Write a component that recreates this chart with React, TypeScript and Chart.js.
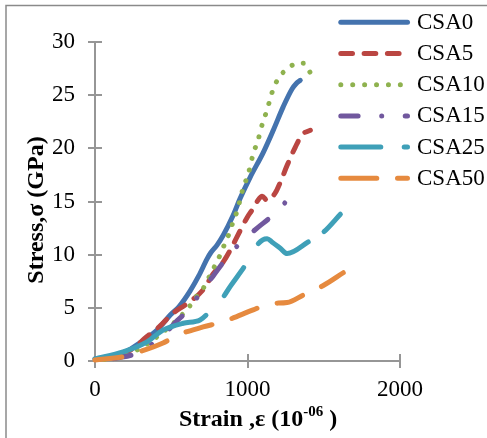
import React, { useEffect, useRef } from "react";
import { Chart, registerables } from "chart.js";

Chart.register(...registerables);

// ---------- data ----------
const seriesNames = ["CSA0", "CSA5", "CSA10", "CSA15", "CSA25", "CSA50"];

const csa0Strain = [0, 100, 184, 230, 295, 407, 492, 550, 624, 680, 735, 760, 800, 840, 906, 952, 1018, 1103, 1169, 1234, 1293, 1320, 1346];
const csa0Stress = [0.2, 0.4, 0.75, 1.1, 1.7, 2.9, 4.3, 5.1, 6.6, 8.0, 9.6, 10.2, 10.9, 11.8, 13.7, 15.3, 17.3, 19.6, 21.7, 23.9, 25.6, 26.1, 26.4];

const csa5Strain = [0, 120, 230, 341, 427, 512, 604, 709, 775, 840, 886, 932, 998, 1030, 1063, 1096, 1129, 1182, 1215, 1260, 1313, 1359, 1412];
const csa5Stress = [0.1, 0.5, 1.0, 2.3, 3.3, 4.5, 5.4, 6.7, 8.2, 9.3, 10.4, 11.7, 13.5, 14.2, 15.0, 15.5, 15.1, 15.8, 16.8, 18.4, 20.1, 21.3, 21.7];

const csa10Strain = [0, 100, 210, 479, 637, 676, 722, 755, 788, 821, 853, 880, 906, 932, 952, 972, 998, 1018, 1037, 1063, 1083, 1103, 1129, 1149, 1175, 1208, 1254, 1307, 1372, 1412];
const csa10Stress = [0.1, 0.2, 0.56, 3.1, 5.45, 6.3, 7.1, 8.1, 9.0, 10.0, 11.1, 12.0, 13.1, 14.1, 15.2, 16.3, 17.3, 18.3, 19.5, 20.5, 21.5, 22.6, 23.6, 24.7, 25.8, 26.7, 27.4, 27.9, 28.0, 27.1];

const csa15Strain = [0, 150, 276, 446, 525, 624, 689, 775, 853, 952, 1063, 1149, 1247];
const csa15Stress = [0.0, 0.3, 0.75, 2.4, 3.6, 5.0, 6.4, 8.0, 9.5, 11.1, 12.5, 13.5, 14.9];

const csa25Strain = [0, 184, 341, 446, 578, 689, 742, 840, 886, 985, 1063, 1100, 1129, 1160, 1215, 1260, 1399, 1497, 1609];
const csa25Stress = [0.2, 0.85, 1.8, 2.9, 3.55, 3.85, 4.5, 6.0, 7.0, 9.0, 10.9, 11.4, 11.5, 11.2, 10.6, 10.1, 11.2, 12.1, 13.8];

const csa50Strain = [0, 184, 276, 446, 545, 709, 840, 1037, 1149, 1260, 1366, 1497, 1628];
const csa50Stress = [0.1, 0.4, 0.8, 1.7, 2.45, 3.2, 3.7, 4.8, 5.4, 5.5, 6.2, 7.1, 8.3];

const strainSeries = [csa0Strain, csa5Strain, csa10Strain, csa15Strain, csa25Strain, csa50Strain];
const stressSeries = [csa0Stress, csa5Stress, csa10Stress, csa15Stress, csa25Stress, csa50Stress];

const xTicks = [0, 1000, 2000];
const yTicks = [0, 5, 10, 15, 20, 25, 30];

const yTitle = "Stress,σ (GPa)";
const xTitleMain = "Strain ,ε (10";
const xTitleSup = "-06";
const xTitleEnd = " )";

// ---------- styles ----------
const colors = ["#4473AE", "#BA4642", "#8FB24F", "#71589E", "#3FA0B8", "#E68A3F"];
// legend sample dash patterns
const legendDashes: number[][] = [
  [],
  [11.7, 11.6],
  [0.01, 11.9],
  [17.3, 23.6, 0.01, 23.5],
  [40, 23.4],
  [36, 20.7],
];
// dash patterns as they fall along the plotted curves
const chartDashes: number[][] = [
  [],
  [12, 11.3],
  [0.01, 11.5],
  [18, 23.5, 0.01, 23.5],
  [121, 27, 34, 28, 60, 19, 200],
  [27, 21],
];
const chartDashOffsets = [0, 20.8, 2, 46.5, 0, 0];
const LINE_W = 5;
const FONT = '"Liberation Serif", "Times New Roman", serif';
const AXIS_GRAY = "#969696";

const decorPlugin = {
  id: "decor",
  beforeDatasetsDraw(chart: any) {
    const ctx = chart.ctx;
    const xs = chart.scales.x;
    const ys = chart.scales.y;
    ctx.save();
    // outer frame (left + top)
    ctx.strokeStyle = "#8a8a8a";
    ctx.lineWidth = 1.5;
    ctx.beginPath();
    ctx.moveTo(6, 438);
    ctx.lineTo(6, 5.5);
    ctx.lineTo(487, 5.5);
    ctx.stroke();

    // axes with cross tick marks
    const x0 = xs.getPixelForValue(xTicks[0]);
    const y0 = ys.getPixelForValue(yTicks[0]);
    ctx.strokeStyle = AXIS_GRAY;
    ctx.lineWidth = 2;
    ctx.beginPath();
    ctx.moveTo(x0, ys.getPixelForValue(yTicks[yTicks.length - 1]));
    ctx.lineTo(x0, y0);
    ctx.moveTo(x0, y0);
    ctx.lineTo(xs.getPixelForValue(xTicks[xTicks.length - 1]), y0);
    for (const v of yTicks) {
      const py = Math.round(ys.getPixelForValue(v));
      ctx.moveTo(x0 - 7, py);
      ctx.lineTo(x0 + 7, py);
    }
    for (const v of xTicks) {
      const px = Math.round(xs.getPixelForValue(v));
      ctx.moveTo(px, y0 - 7);
      ctx.lineTo(px, y0 + 7);
    }
    ctx.stroke();
    ctx.restore();
  },
  afterDraw(chart: any) {
    const ctx = chart.ctx;
    ctx.save();
    // legend
    const lx0 = 340.8;
    const lx1 = 407.5;
    const top = 22.3;
    const step = 31.2;
    seriesNames.forEach((name, i) => {
      const yy = top + i * step;
      ctx.strokeStyle = colors[i];
      ctx.lineWidth = LINE_W;
      ctx.lineCap = "round";
      ctx.setLineDash(legendDashes[i]);
      ctx.lineDashOffset = 0;
      ctx.beginPath();
      ctx.moveTo(lx0, yy);
      ctx.lineTo(lx1, yy);
      ctx.stroke();
      ctx.setLineDash([]);
      ctx.fillStyle = "#000";
      ctx.font = `23px ${FONT}`;
      ctx.textAlign = "left";
      ctx.textBaseline = "middle";
      ctx.fillText(name, 417, yy + 0.5);
    });

    // y title
    ctx.save();
    ctx.translate(37, 210);
    ctx.rotate(-Math.PI / 2);
    ctx.font = `bold 24px ${FONT}`;
    ctx.textAlign = "center";
    ctx.textBaseline = "middle";
    ctx.fillStyle = "#000";
    ctx.fillText(yTitle, 0, 0);
    ctx.restore();

    // x title with superscript
    const mainFont = `bold 24px ${FONT}`;
    const supFont = `bold 15px ${FONT}`;
    ctx.font = mainFont;
    const w1 = ctx.measureText(xTitleMain).width;
    const w3 = ctx.measureText(xTitleEnd).width;
    ctx.font = supFont;
    const w2 = ctx.measureText(xTitleSup).width;
    const total = w1 + w2 + w3;
    let sx = 258 - total / 2;
    const baseY = 426;
    ctx.fillStyle = "#000";
    ctx.textAlign = "left";
    ctx.textBaseline = "alphabetic";
    ctx.font = mainFont;
    ctx.fillText(xTitleMain, sx, baseY);
    sx += w1;
    ctx.font = supFont;
    ctx.fillText(xTitleSup, sx, baseY - 10);
    sx += w2;
    ctx.font = mainFont;
    ctx.fillText(xTitleEnd, sx, baseY);
    ctx.restore();
  },
};

export default function App() {
  const canvasRef = useRef<HTMLCanvasElement | null>(null);

  useEffect(() => {
    document.body.style.margin = "0";
    document.body.style.overflow = "hidden";
    const canvas = canvasRef.current;
    if (!canvas) return;

    const datasets = seriesNames.map((name, i) => ({
      label: name,
      data: strainSeries[i].map((x, j) => ({ x, y: stressSeries[i][j] })),
      borderColor: colors[i],
      backgroundColor: colors[i],
      borderWidth: LINE_W,
      borderDash: chartDashes[i],
      borderDashOffset: chartDashOffsets[i],
      borderCapStyle: "round" as const,
      borderJoinStyle: "round" as const,
      pointRadius: 0,
      pointHoverRadius: 0,
      cubicInterpolationMode: "monotone" as const,
      fill: false,
      clip: false as any,
      order: seriesNames.length - 1 - i,
    }));

    const chart = new Chart(canvas, {
      type: "line",
      data: { datasets },
      options: {
        responsive: false,
        maintainAspectRatio: false,
        animation: false,
        devicePixelRatio: 1,
        layout: { padding: { left: 0, top: 42, right: 87, bottom: 0 } },
        plugins: {
          legend: { display: false },
          title: { display: false },
          tooltip: { enabled: false },
        },
        scales: {
          x: {
            type: "linear",
            min: xTicks[0],
            max: xTicks[xTicks.length - 1],
            afterFit: (s: any) => {
              s.height = 77;
            },
            afterBuildTicks: (s: any) => {
              s.ticks = xTicks.map((v) => ({ value: v }));
            },
            grid: { display: false, drawTicks: false },
            border: { display: false },
            ticks: {
              color: "#000",
              font: { family: FONT, size: 23 },
              padding: 15,
              maxRotation: 0,
              autoSkip: false,
              callback: (v: any) => String(v),
            },
          },
          y: {
            type: "linear",
            min: yTicks[0],
            max: yTicks[yTicks.length - 1],
            afterFit: (s: any) => {
              s.width = 95;
            },
            afterBuildTicks: (s: any) => {
              s.ticks = yTicks.map((v) => ({ value: v }));
            },
            grid: { display: false, drawTicks: false },
            border: { display: false },
            ticks: {
              color: "#000",
              font: { family: FONT, size: 23 },
              padding: 20,
              autoSkip: false,
              callback: (v: any) => String(v),
            },
          },
        },
      },
      plugins: [decorPlugin],
    });

    return () => {
      chart.destroy();
    };
  }, []);

  return (
    <div style={{ width: 487, height: 438, position: "relative" }}>
      <canvas ref={canvasRef} width={487} height={438} style={{ display: "block" }} />
    </div>
  );
}
